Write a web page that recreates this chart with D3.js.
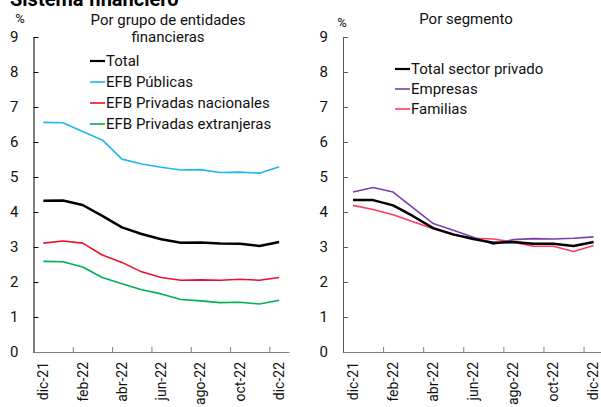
<!DOCTYPE html>
<html><head><meta charset="utf-8">
<script src="https://cdn.jsdelivr.net/npm/d3@7"></script>
<style>
body{margin:0;background:#fff;}
svg{display:block;font-family:Roboto, "Liberation Sans", sans-serif;}
</style></head>
<body><svg id="c" width="601" height="407"></svg>
<script>
const months = ["dic-21","ene-22","feb-22","mar-22","abr-22","may-22","jun-22","jul-22","ago-22","sep-22","oct-22","nov-22","dic-22"];
const tickLabels = ["dic-21","feb-22","abr-22","jun-22","ago-22","oct-22","dic-22"];
const yTicks = [0,1,2,3,4,5,6,7,8,9];

const total      = [4.32,4.33,4.20,3.89,3.56,3.37,3.22,3.12,3.13,3.10,3.09,3.03,3.14];
const publicas   = [6.56,6.55,6.30,6.06,5.51,5.37,5.28,5.20,5.21,5.13,5.14,5.11,5.29];
const nacionales = [3.11,3.17,3.11,2.77,2.56,2.29,2.13,2.05,2.06,2.05,2.08,2.05,2.13];
const extranjeras= [2.59,2.58,2.43,2.13,1.95,1.78,1.66,1.50,1.46,1.41,1.42,1.37,1.48];

const totalPriv  = [4.34,4.34,4.19,3.88,3.54,3.36,3.23,3.12,3.14,3.09,3.09,3.03,3.14];
const empresas   = [4.57,4.70,4.57,4.12,3.67,3.48,3.28,3.08,3.21,3.24,3.23,3.25,3.29];
const familias   = [4.19,4.07,3.92,3.72,3.52,3.35,3.25,3.23,3.14,3.02,3.02,2.87,3.04];

const leftSeries = [
  {name:"Total", values:total, color:"#000000", w:2.5},
  {name:"EFB Públicas", values:publicas, color:"#22b5f0", w:1.6},
  {name:"EFB Privadas nacionales", values:nacionales, color:"#e8102a", w:1.6},
  {name:"EFB Privadas extranjeras", values:extranjeras, color:"#00b050", w:1.6}
];
const rightSeries = [
  {name:"Total sector privado", values:totalPriv, color:"#000000", w:2.5},
  {name:"Empresas", values:empresas, color:"#7a3db0", w:1.6},
  {name:"Familias", values:familias, color:"#ff3b62", w:1.6}
];

const svg = d3.select("#c");

svg.append("text").attr("x",10).attr("y",6).attr("font-size",20).attr("font-weight","bold")
  .attr("fill","#000").text("Sistema financiero");

function panel(cfg){
  const g = svg.append("g");
  const x = d3.scaleBand().domain(months).range([cfg.x0,cfg.x1]).padding(0);
  const xi = d3.scaleLinear().domain([0,months.length]).range([cfg.x0,cfg.x1]);
  const y = d3.scaleLinear().domain([0,9]).range([352,37]);

  const ya = g.append("g").attr("transform",`translate(${cfg.x0},0)`)
    .call(d3.axisLeft(y).tickValues(yTicks).tickSize(-5).tickPadding(15).tickSizeOuter(0));
  ya.select(".domain").attr("stroke",cfg.yAxisColor);
  ya.selectAll(".tick line").attr("stroke",cfg.yAxisColor);
  ya.selectAll("text").attr("font-size",15).attr("fill","#111").attr("font-family","Roboto");

  const xa = g.append("g").attr("transform","translate(0,352)")
    .call(d3.axisBottom(xi).tickValues([2,4,6,8,10,12]).tickSize(-5).tickFormat("").tickSizeOuter(0));
  xa.select(".domain").attr("stroke","#7f7f7f");
  xa.selectAll(".tick line").attr("stroke","#7f7f7f");

  const xl = g.append("g").attr("transform","translate(0,352)")
    .call(d3.axisBottom(x).tickValues(tickLabels).tickSize(0).tickPadding(0));
  xl.select(".domain").remove();
  xl.selectAll("text").attr("font-size",14).attr("fill","#111").attr("font-family","Roboto")
    .attr("text-anchor","end").attr("transform","rotate(-90)")
    .attr("x",-10).attr("y",0).attr("dy","0.35em");

  const line = d3.line().x((d,i)=>x(months[i])+x.bandwidth()/2).y(d=>y(d));
  cfg.series.slice().reverse().forEach(s=>{
    g.append("path").datum(s.values).attr("d",line).attr("fill","none")
      .attr("stroke",s.color).attr("stroke-width",s.w).attr("stroke-linejoin","round");
  });

  cfg.title.forEach((t,i)=>{
    g.append("text").attr("x",cfg.titleX).attr("y",cfg.titleY+i*17).attr("text-anchor","middle")
      .attr("font-size",15).attr("fill","#111").text(t);
  });
  g.append("text").attr("x",cfg.pctX).attr("y",cfg.pctY).attr("text-anchor","middle")
    .attr("font-size",13).attr("fill","#111").text("%");

  cfg.series.forEach((s,i)=>{
    const yy = cfg.legY + i*cfg.legDy;
    g.append("line").attr("x1",cfg.legX).attr("x2",cfg.legX+15).attr("y1",yy).attr("y2",yy)
      .attr("stroke",s.color).attr("stroke-width",s.w===2.5?2.2:1.6);
    g.append("text").attr("x",cfg.legX+16).attr("y",yy).attr("dy","0.35em")
      .attr("font-size",15).attr("fill","#111").text(s.name);
  });
}

panel({x0:33.5,x1:289,series:leftSeries,yAxisColor:"#000",
  title:["Por grupo de entidades","financieras"],titleX:168,titleY:25,
  pctX:20,pctY:23,legX:90,legY:61,legDy:21});
panel({x0:343,x1:603.6,series:rightSeries,yAxisColor:"#595959",
  title:["Por segmento"],titleX:466,titleY:24,
  pctX:342,pctY:26.5,legX:395,legY:69,legDy:20});
</script></body></html>
